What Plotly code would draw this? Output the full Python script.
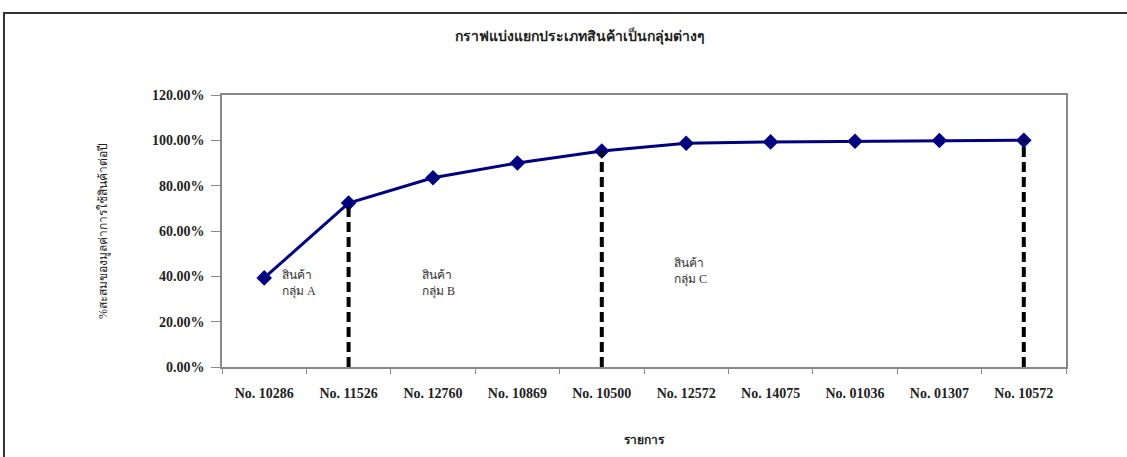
import plotly.graph_objects as go

categories = ["No. 10286", "No. 11526", "No. 12760", "No. 10869", "No. 10500",
              "No. 12572", "No. 14075", "No. 01036", "No. 01307", "No. 10572"]
cum_pct = [0.393, 0.723, 0.835, 0.900, 0.953, 0.987, 0.993, 0.996, 0.999, 1.000]
divider_idx = [1, 4, 9]
group_labels = ["สินค้า<br>กลุ่ม A", "สินค้า<br>กลุ่ม B", "สินค้า<br>กลุ่ม C"]
group_x = [0.19, 1.85, 4.83]
group_y = [0.37, 0.37, 0.42]
y_ticks = [0, 0.2, 0.4, 0.6, 0.8, 1.0, 1.2]

SERIF = "Liberation Serif, Times New Roman, serif"

fig = go.Figure()

fig.add_trace(go.Scatter(
    x=categories, y=cum_pct, mode="lines+markers",
    line=dict(color="#000080", width=3),
    marker=dict(symbol="diamond", size=12, color="#000080"),
    showlegend=False))

for i in divider_idx:
    fig.add_trace(go.Scatter(
        x=[categories[i], categories[i]], y=[0, cum_pct[i]],
        mode="lines", line=dict(color="black", width=4, dash="10px,5px"),
        hoverinfo="skip", showlegend=False))

for lab, gx, gy in zip(group_labels, group_x, group_y):
    fig.add_annotation(x=gx, y=gy, xref="x", yref="y", text=lab, showarrow=False,
                       xanchor="left", yanchor="middle", align="left",
                       font=dict(family=SERIF, size=12, color="#333"))

fig.add_shape(type="rect", xref="paper", yref="paper",
              x0=-0.2583, x1=1.08, y0=-0.36, y1=1.3015,
              line=dict(color="#333", width=2), layer="below")

fig.update_layout(
    width=1127, height=457,
    margin=dict(l=222, r=61, t=95, b=90),
    paper_bgcolor="white", plot_bgcolor="white",
    title=dict(text="<b>กราฟแบ่งแยกประเภทสินค้าเป็นกลุ่มต่างๆ</b>",
               x=0.515, xanchor="center", y=0.92, yanchor="middle",
               font=dict(family=SERIF, size=14, color="#222")),
    xaxis=dict(type="category", categoryorder="array", categoryarray=categories,
               range=[-0.5, 9.5], showline=True, linecolor="#888",
               linewidth=1.5, mirror=True, ticks="outside", tickson="boundaries",
               ticklen=5, tickcolor="#888", showgrid=False,
               ticklabelstandoff=12,
               tickfont=dict(family=SERIF, size=14, color="#222", weight="bold"),
               title=dict(text="<b>รายการ</b>", standoff=36,
                          font=dict(family=SERIF, size=12, color="#222"))),
    yaxis=dict(range=[0, 1.2], tickvals=y_ticks, tickformat=".2%",
               showline=True, linecolor="#888", linewidth=1.5, mirror=True,
               ticks="outside", ticklen=9, tickcolor="#888", showgrid=False,
               zeroline=False, ticklabelstandoff=4,
               tickfont=dict(family=SERIF, size=14, color="#222", weight="bold"),
               title=dict(text="%สะสมของมูลค่าการใช้สินค้าต่อปี", standoff=42,
                          font=dict(family=SERIF, size=12, color="#222"))),
)

fig.write_html("out.html", config={"displayModeBar": False},
               post_script="document.body.style.margin='0';")
